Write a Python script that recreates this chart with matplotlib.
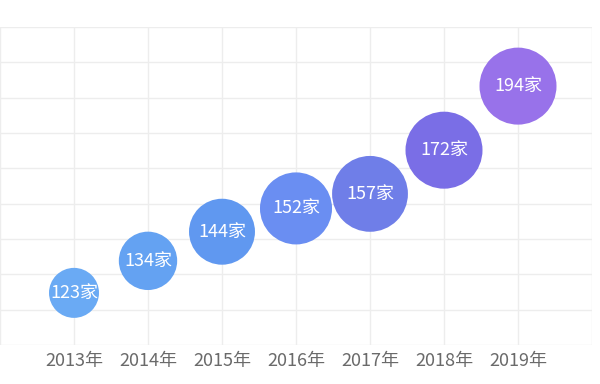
import matplotlib
matplotlib.use("Agg")
import matplotlib.pyplot as plt
import numpy as np
from matplotlib.colors import LinearSegmentedColormap

plt.rcParams['font.family'] = ['Noto Sans CJK SC', 'DejaVu Sans']

years = ['2013年', '2014年', '2015年', '2016年', '2017年', '2018年', '2019年']
counts = [123, 134, 144, 152, 157, 172, 194]

DPI = 100
fig = plt.figure(figsize=(6.0, 3.84), dpi=DPI)
ax = fig.add_axes([0.0, 39 / 384, 592 / 600, 318 / 384])

x = np.arange(len(years))
vals = np.array(counts, dtype=float)

# bubble radius in pixels grows with the value, then levels off
r_px = np.minimum(38.5, 25 + 0.38 * (vals - vals.min()))
sizes = (2 * r_px * 72 / DPI) ** 2

cmap = LinearSegmentedColormap.from_list(
    'bub', ['#6aaaf4', '#64a2f2', '#6098f0', '#6a8ef2',
            '#6f7ee8', '#7a6ee6', '#9872ea'])
colors = cmap(np.linspace(0, 1, len(x)))

ax.scatter(x, vals, s=sizes, c=colors, edgecolors='none', zorder=3)
for xi, v in zip(x, counts):
    ax.text(xi, v, f'{v}家', color='white', fontsize=13,
            ha='center', va='center', zorder=4)

ax.set_xlim(-1, 7)
ax.set_ylim(105.1, 214.3)
ax.set_xticks(np.arange(-1, 8), minor=True)
ax.set_xticks(x)
ax.set_xticklabels(years, fontsize=13, color='#6a6a6a')
ax.set_yticks(np.linspace(105.1, 214.3, 10))
ax.set_yticklabels([])
ax.grid(which='minor', axis='x', color='#ededed', linewidth=1)
ax.grid(which='major', axis='both', color='#ededed', linewidth=1)
ax.set_axisbelow(True)
ax.tick_params(which='both', length=0, pad=5)
for s in ax.spines.values():
    s.set_visible(False)

fig.savefig('out.png', dpi=DPI)
